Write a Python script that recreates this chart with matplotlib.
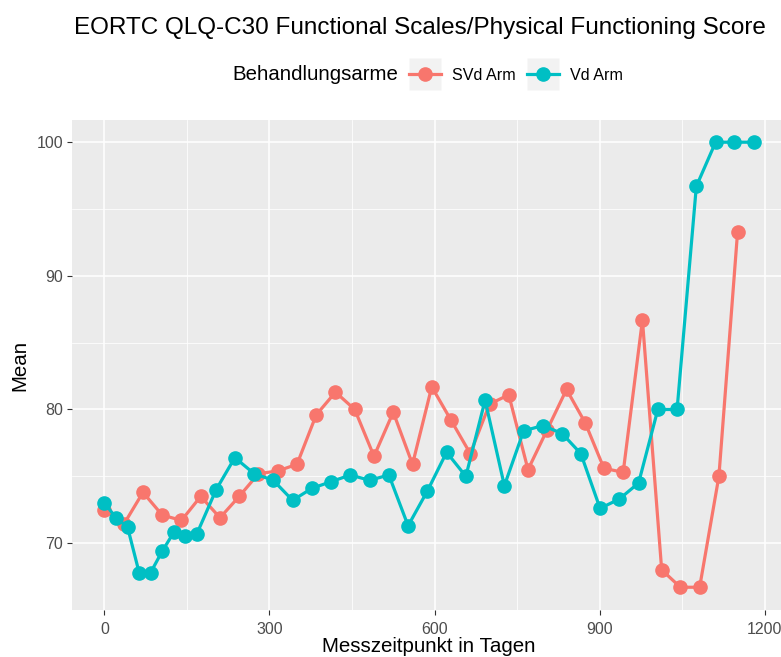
import matplotlib.pyplot as plt
from matplotlib.lines import Line2D
from matplotlib.legend_handler import HandlerTuple

plt.rcParams['font.family'] = ['Liberation Sans', 'DejaVu Sans']

# SVd arm: assessment days and mean physical functioning score
svd_days = [0, 35, 70, 105, 140, 175, 210, 245, 280, 315, 350, 385, 420, 455,
            490, 525, 560, 595, 630, 665, 700, 735, 770, 805, 840, 874, 908,
            943, 978, 1013, 1047, 1082, 1117, 1151]
svd_mean = [72.5, 71.4, 73.8, 72.1, 71.7, 73.5, 71.9, 73.5, 75.2, 75.4, 75.9,
            79.6, 81.3, 80.0, 76.5, 79.8, 75.9, 81.7, 79.2, 76.7, 80.4, 81.1,
            75.5, 78.5, 81.5, 79.0, 75.6, 75.3, 86.7, 68.0, 66.7, 66.7, 75.0,
            93.3]

# Vd arm
vd_days = [0, 21, 42, 63, 84, 105, 126, 147, 168, 203, 237, 272, 307, 342,
           377, 412, 447, 482, 517, 552, 587, 622, 657, 692, 727, 762, 797,
           832, 866, 901, 936, 971, 1006, 1041, 1076, 1111, 1145, 1180]
vd_mean = [73.0, 71.9, 71.2, 67.8, 67.8, 69.4, 70.8, 70.5, 70.7, 74.0, 76.4,
           75.2, 74.7, 73.2, 74.1, 74.6, 75.1, 74.7, 75.1, 71.3, 73.9, 76.8,
           75.0, 80.7, 74.3, 78.4, 78.8, 78.2, 76.7, 72.6, 73.3, 74.5, 80.0,
           80.0, 96.7, 100.0, 100.0, 100.0]

red = '#F8766D'
teal = '#00BFC4'
grey_txt = '#4D4D4D'

fig = plt.figure(figsize=(7.81, 6.57), dpi=100)
ax = fig.add_axes([0.0922, 0.0716, 0.9142, 0.7458])
ax.set_facecolor('#EBEBEB')

ax.plot(svd_days, svd_mean, color=red, lw=2.3, marker='o', ms=9.5, zorder=3)
ax.plot(vd_days, vd_mean, color=teal, lw=2.3, marker='o', ms=9.5, zorder=3)

# ggplot-like limits with 5% expansion
xmin = min(svd_days + vd_days)
xmax = max(svd_days + vd_days)
ymin = min(svd_mean + vd_mean)
ymax = max(svd_mean + vd_mean)
dx = (xmax - xmin) * 0.05
dy = (ymax - ymin) * 0.05
ax.set_xlim(xmin - dx, xmax + dx)
ax.set_ylim(ymin - dy, ymax + dy)

ax.set_xticks([0, 300, 600, 900, 1200])
ax.set_yticks([70, 80, 90, 100])
ax.set_xticks([150, 450, 750, 1050], minor=True)
ax.set_yticks([65, 75, 85, 95], minor=True)
ax.grid(which='major', color='white', lw=1.1)
ax.grid(which='minor', color='white', lw=0.55)
ax.set_axisbelow(True)
for s in ax.spines.values():
    s.set_visible(False)
ax.tick_params(which='major', length=3.5, width=0.8, color='#333333',
               labelsize=11.5, labelcolor=grey_txt, pad=3)
ax.tick_params(axis='x', pad=5)
ax.tick_params(which='minor', length=0)

ax.set_xlabel('Messzeitpunkt in Tagen', fontsize=14.8, labelpad=0.5)
ax.set_ylabel('Mean', fontsize=14.8, labelpad=5)

fig.text(420 / 781, 1 - 28 / 657,
         'EORTC QLQ-C30 Functional Scales/Physical Functioning Score',
         ha='center', va='center', fontsize=17.5)

fig.text(232 / 781, 1 - 75 / 657, 'Behandlungsarme', ha='left', va='center',
         fontsize=14.7)

key_bg = dict(marker='s', ms=23, mfc='#F2F2F2', mec='none', ls='none')
h_svd = (Line2D([], [], **key_bg),
         Line2D([], [], color=red, lw=2.3, marker='o', ms=9.5))
h_vd = (Line2D([], [], **key_bg),
        Line2D([], [], color=teal, lw=2.3, marker='o', ms=9.5))
fig.legend([h_svd, h_vd], ['SVd Arm', 'Vd Arm'],
           handler_map={tuple: HandlerTuple(ndivide=1, pad=0)},
           loc='center left', bbox_to_anchor=(409 / 781, 1 - 75 / 657),
           ncol=2, frameon=False, fontsize=11.6, handlelength=2.0,
           handletextpad=0.68, columnspacing=0.68, borderpad=0,
           borderaxespad=0)

fig.savefig('out.png', dpi=100)
